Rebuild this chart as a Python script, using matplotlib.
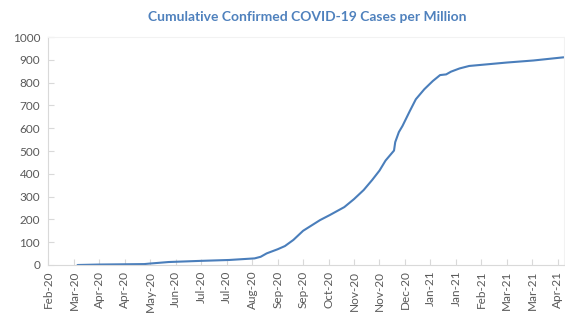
import matplotlib

matplotlib.use("Agg")
import matplotlib.dates as mdates
import matplotlib.pyplot as plt
import pandas as pd

# -----------------------------------------------------------------------------
# Data
# -----------------------------------------------------------------------------

DATES = [
    "2020-03-21", "2020-04-08", "2020-05-15", "2020-05-19", "2020-06-04",
    "2020-06-30", "2020-07-24", "2020-08-14", "2020-08-19", "2020-08-24",
    "2020-09-02", "2020-09-08", "2020-09-15", "2020-09-23", "2020-10-07",
    "2020-10-15", "2020-10-27", "2020-11-04", "2020-11-12", "2020-11-19",
    "2020-11-25", "2020-11-30", "2020-12-07", "2020-12-08", "2020-12-11",
    "2020-12-14", "2020-12-20", "2020-12-25", "2021-01-01", "2021-01-08",
    "2021-01-14", "2021-01-19", "2021-01-23", "2021-01-30", "2021-02-07",
    "2021-03-10", "2021-04-01", "2021-04-26",
]
CASES_PER_MILLION = [
    0, 2, 4, 6, 13,
    18, 22, 29, 36, 51,
    69, 83, 110, 150, 197,
    219, 254, 289, 329, 373,
    414, 458, 502, 539, 583,
    610, 675, 727, 771, 807,
    833, 836, 848, 862, 873,
    888, 897, 911,
]

AXIS_START = "2020-02-26"
TICK_STEP_DAYS = 21
N_TICKS = 21

TITLE = "Cumulative Confirmed COVID-19 Cases per Million"

# -----------------------------------------------------------------------------
# Style
# -----------------------------------------------------------------------------

LINE_COLOR = "#4A7EBB"
TITLE_COLOR = "#4F81BD"
TEXT_COLOR = "#595959"
AXIS_COLOR = "#D9D9D9"
FRAME_COLOR = "#F2F2F2"

plt.rcParams["font.family"] = ["Lato", "DejaVu Sans"]

# -----------------------------------------------------------------------------
# Plot
# -----------------------------------------------------------------------------

dates = pd.to_datetime(DATES)
ticks = pd.date_range(AXIS_START, periods=N_TICKS, freq=f"{TICK_STEP_DAYS}D")

fig = plt.figure(figsize=(5.65, 3.16), dpi=100)
ax = fig.add_axes([0.0858, 0.1614, 0.912, 0.7215])

ax.plot(dates, CASES_PER_MILLION, color=LINE_COLOR, linewidth=1.5,
        solid_capstyle="round")

ax.set_xlim(pd.Timestamp(AXIS_START), dates[-1])
ax.set_ylim(0, 1000)
ax.set_yticks(range(0, 1001, 100))
ax.set_xticks(ticks)
ax.xaxis.set_major_formatter(mdates.DateFormatter("%b-%y"))

ax.tick_params(axis="x", direction="in", length=4, color=AXIS_COLOR,
               labelsize=8.5, labelcolor=TEXT_COLOR, labelrotation=90, pad=4)
ax.tick_params(axis="y", direction="in", length=4, color=AXIS_COLOR,
               labelsize=8.5, labelcolor=TEXT_COLOR, pad=6)

for side in ("left", "bottom"):
    ax.spines[side].set_color(AXIS_COLOR)
for side in ("top", "right"):
    ax.spines[side].set_color(FRAME_COLOR)

fig.text(0.543, 0.945, TITLE, ha="center", va="center", fontsize=10,
         fontweight="bold", color=TITLE_COLOR)

fig.savefig("out.png", dpi=100)
